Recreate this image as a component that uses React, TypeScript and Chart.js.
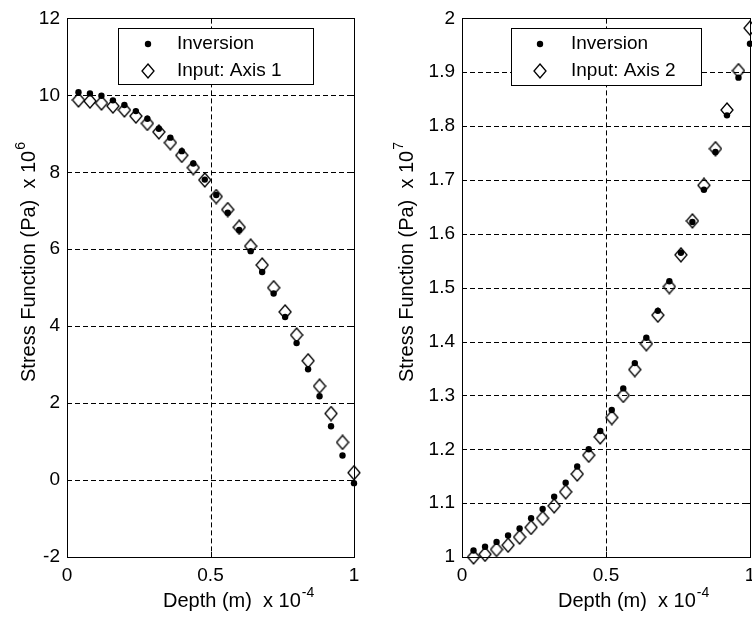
import React, { useEffect, useRef } from 'react';
import { Chart, registerables } from 'chart.js';

Chart.register(...registerables);

// ---- data ----
const depth = [0.04, 0.08, 0.12, 0.16, 0.2, 0.24, 0.28, 0.32, 0.36, 0.4, 0.44, 0.48, 0.52, 0.56, 0.6, 0.64, 0.68, 0.72, 0.76, 0.8, 0.84, 0.88, 0.92, 0.96, 1.0];
const inversion1 = [10.08, 10.05, 9.99, 9.87, 9.75, 9.59, 9.39, 9.13, 8.9, 8.55, 8.23, 7.81, 7.41, 6.95, 6.5, 5.95, 5.41, 4.85, 4.24, 3.56, 2.88, 2.18, 1.4, 0.64, -0.08];
const input1 = [9.88, 9.85, 9.8, 9.72, 9.62, 9.46, 9.27, 9.05, 8.77, 8.44, 8.12, 7.8, 7.37, 7.03, 6.57, 6.08, 5.59, 5.0, 4.37, 3.77, 3.1, 2.44, 1.73, 0.98, 0.19];
const inversion2 = [1.012, 1.019, 1.028, 1.04, 1.053, 1.072, 1.089, 1.112, 1.138, 1.168, 1.2, 1.234, 1.273, 1.313, 1.36, 1.407, 1.457, 1.512, 1.565, 1.622, 1.682, 1.752, 1.82, 1.89, 1.953];
const input2 = [1.0, 1.005, 1.014, 1.022, 1.037, 1.055, 1.072, 1.095, 1.121, 1.154, 1.189, 1.223, 1.259, 1.3, 1.348, 1.396, 1.449, 1.502, 1.561, 1.624, 1.69, 1.758, 1.83, 1.903, 1.982];
const xTicks = [0, 0.5, 1];
const yTicks1 = [-2, 0, 2, 4, 6, 8, 10, 12];
const yTicks2 = [1, 1.1, 1.2, 1.3, 1.4, 1.5, 1.6, 1.7, 1.8, 1.9, 2];
const seriesNames = ['Inversion', 'Input: Axis 1', 'Input: Axis 2'];
const xTitle = 'Depth (m)  x 10';
const xExp = '-4';
const yTitle = 'Stress Function (Pa)  x 10';
const yExp1 = '6';
const yExp2 = '7';

const FONT = "'Liberation Sans', Arial, Helvetica, sans-serif";
const FS = 19;
const FT = 20;

function makeDiamond(): HTMLCanvasElement {
  const c = document.createElement('canvas');
  c.width = 14;
  c.height = 16;
  const ctx = c.getContext('2d')!;
  ctx.strokeStyle = '#000';
  ctx.lineWidth = 1.3;
  ctx.beginPath();
  ctx.moveTo(7, 1);
  ctx.lineTo(13, 8);
  ctx.lineTo(7, 15);
  ctx.lineTo(1, 8);
  ctx.closePath();
  ctx.stroke();
  return c;
}

const matlabPlugin = {
  id: 'matlabAxes',
  beforeDatasetsDraw(chart: any) {
    const { ctx, chartArea: a, scales } = chart;
    const xs = scales.x, ys = scales.y;
    ctx.save();
    ctx.strokeStyle = '#000';
    ctx.lineWidth = 1;
    ctx.setLineDash([5, 3]);
    xs.ticks.forEach((t: any) => {
      const px = Math.round(xs.getPixelForValue(t.value)) + 0.5;
      ctx.beginPath();
      ctx.moveTo(px, a.top);
      ctx.lineTo(px, a.bottom);
      ctx.stroke();
    });
    ys.ticks.forEach((t: any) => {
      const py = Math.round(ys.getPixelForValue(t.value)) + 0.5;
      ctx.beginPath();
      ctx.moveTo(a.left, py);
      ctx.lineTo(a.right, py);
      ctx.stroke();
    });
    ctx.setLineDash([]);
    const tl = 5;
    xs.ticks.forEach((t: any) => {
      const px = Math.round(xs.getPixelForValue(t.value)) + 0.5;
      ctx.beginPath();
      ctx.moveTo(px, a.top);
      ctx.lineTo(px, a.top + tl);
      ctx.moveTo(px, a.bottom);
      ctx.lineTo(px, a.bottom - tl);
      ctx.stroke();
    });
    ys.ticks.forEach((t: any) => {
      const py = Math.round(ys.getPixelForValue(t.value)) + 0.5;
      ctx.beginPath();
      ctx.moveTo(a.left, py);
      ctx.lineTo(a.left + tl, py);
      ctx.moveTo(a.right, py);
      ctx.lineTo(a.right - tl, py);
      ctx.stroke();
    });
    ctx.strokeRect(Math.round(a.left) + 0.5, Math.round(a.top) + 0.5, Math.round(a.right - a.left), Math.round(a.bottom - a.top));
    ctx.restore();
  },
  afterDraw(chart: any) {
    const { ctx, chartArea: a } = chart;
    const o = chart.options.plugins.matlabAxes;
    ctx.save();
    ctx.fillStyle = '#000';
    ctx.textBaseline = 'alphabetic';
    ctx.textAlign = 'left';
    ctx.font = `${FT}px ${FONT}`;
    const xStart = a.left + o.xTitleOffset;
    const xBase = o.xTitleBaseline;
    ctx.fillText(xTitle, xStart, xBase);
    const w = ctx.measureText(xTitle).width;
    ctx.font = `14px ${FONT}`;
    ctx.fillText(xExp, xStart + w + 1, xBase - 10);
    ctx.translate(o.yTitleX, o.yTitleStart);
    ctx.rotate(-Math.PI / 2);
    ctx.font = `${FT}px ${FONT}`;
    ctx.fillText(yTitle, 0, 0);
    const wy = ctx.measureText(yTitle).width;
    ctx.font = `14px ${FONT}`;
    ctx.fillText(o.yExp, wy + 1, -10);
    ctx.restore();

    const L = o.legend;
    ctx.save();
    ctx.fillStyle = '#fff';
    ctx.fillRect(L.x, L.y, L.w, L.h);
    ctx.strokeStyle = '#000';
    ctx.lineWidth = 1;
    ctx.strokeRect(L.x + 0.5, L.y + 0.5, L.w, L.h);
    ctx.fillStyle = '#000';
    ctx.beginPath();
    ctx.arc(L.mx, L.r1, 3.2, 0, Math.PI * 2);
    ctx.fill();
    const d = o.diamond as HTMLCanvasElement;
    ctx.drawImage(d, Math.round(L.mx - d.width / 2), Math.round(L.r2 - d.height / 2));
    ctx.font = `${FS}px ${FONT}`;
    ctx.textBaseline = 'middle';
    ctx.fillText(L.t1, L.tx, L.r1);
    ctx.fillText(L.t2, L.tx, L.r2);
    ctx.restore();
  },
};

function buildConfig(opts: {
  inv: number[];
  inp: number[];
  inpLabel: string;
  yMin: number;
  yMax: number;
  yTicks: number[];
  yAxisWidth: number;
  padRight: number;
  yExp: string;
  yTitleX: number;
  legend: any;
  diamond: HTMLCanvasElement;
  decimals: number;
}): any {
  return {
    type: 'scatter',
    data: {
      datasets: [
        {
          label: seriesNames[0],
          data: depth.map((x, i) => ({ x, y: opts.inv[i] })),
          pointStyle: 'circle',
          pointRadius: 3.2,
          pointBackgroundColor: '#000',
          pointBorderColor: '#000',
          pointBorderWidth: 0,
          showLine: false,
          clip: false,
        },
        {
          label: opts.inpLabel,
          data: depth.map((x, i) => ({ x, y: opts.inp[i] })),
          pointStyle: opts.diamond,
          pointRadius: 7,
          showLine: false,
          clip: false,
        },
      ],
    },
    options: {
      animation: false,
      responsive: false,
      maintainAspectRatio: false,
      events: [],
      layout: { padding: { left: 0, right: opts.padRight, top: 18, bottom: 0 } },
      plugins: {
        legend: { display: false },
        tooltip: { enabled: false },
        matlabAxes: {
          xTitleOffset: 96,
          xTitleBaseline: 607,
          yTitleX: opts.yTitleX,
          yTitleStart: 382,
          yExp: opts.yExp,
          legend: opts.legend,
          diamond: opts.diamond,
        },
      },
      scales: {
        x: {
          type: 'linear',
          min: 0,
          max: 1,
          afterBuildTicks: (s: any) => {
            s.ticks = xTicks.map((v) => ({ value: v }));
          },
          afterFit: (s: any) => {
            s.height = 60;
          },
          grid: { display: false, drawTicks: false },
          border: { display: false },
          ticks: {
            color: '#000',
            font: { family: FONT, size: FS },
            padding: 7,
            maxRotation: 0,
            autoSkip: false,
            callback: (v: any) => String(v),
          },
        },
        y: {
          type: 'linear',
          min: opts.yMin,
          max: opts.yMax,
          afterBuildTicks: (s: any) => {
            s.ticks = opts.yTicks.map((v) => ({ value: v }));
          },
          afterFit: (s: any) => {
            s.width = opts.yAxisWidth;
          },
          grid: { display: false, drawTicks: false },
          border: { display: false },
          ticks: {
            color: '#000',
            font: { family: FONT, size: FS },
            padding: 7,
            autoSkip: false,
            callback: (v: any) => (opts.decimals ? (Math.round(v * 10) / 10).toString() : String(v)),
          },
        },
      },
    },
    plugins: [matlabPlugin],
  };
}

export default function App() {
  const leftRef = useRef<HTMLCanvasElement>(null);
  const rightRef = useRef<HTMLCanvasElement>(null);

  useEffect(() => {
    const diamond = makeDiamond();
    const c1 = new Chart(
      leftRef.current!,
      buildConfig({
        inv: inversion1,
        inp: input1,
        inpLabel: seriesNames[1],
        yMin: -2,
        yMax: 12,
        yTicks: yTicks1,
        yAxisWidth: 67,
        padRight: 22,
        yExp: yExp1,
        yTitleX: 35,
        legend: { x: 118, y: 28, w: 195, h: 56, mx: 148, tx: 177, r1: 44, r2: 71, t1: seriesNames[0], t2: seriesNames[1] },
        diamond,
        decimals: 0,
      })
    );
    const c2 = new Chart(
      rightRef.current!,
      buildConfig({
        inv: inversion2,
        inp: input2,
        inpLabel: seriesNames[2],
        yMin: 1,
        yMax: 2,
        yTicks: yTicks2,
        yAxisWidth: 86,
        padRight: 26,
        yExp: yExp2,
        yTitleX: 37,
        legend: { x: 135, y: 28, w: 190, h: 57, mx: 164, tx: 195, r1: 44, r2: 71, t1: seriesNames[0], t2: seriesNames[2] },
        diamond,
        decimals: 1,
      })
    );
    return () => {
      c1.destroy();
      c2.destroy();
    };
  }, []);

  return (
    <div
      style={{
        position: 'absolute',
        left: 0,
        top: 0,
        width: 752,
        height: 617,
        overflow: 'hidden',
        background: '#fff',
      }}
    >
      <canvas ref={leftRef} width={376} height={617} style={{ position: 'absolute', left: 0, top: 0, width: 376, height: 617 }} />
      <canvas ref={rightRef} width={400} height={617} style={{ position: 'absolute', left: 376, top: 0, width: 400, height: 617 }} />
    </div>
  );
}
